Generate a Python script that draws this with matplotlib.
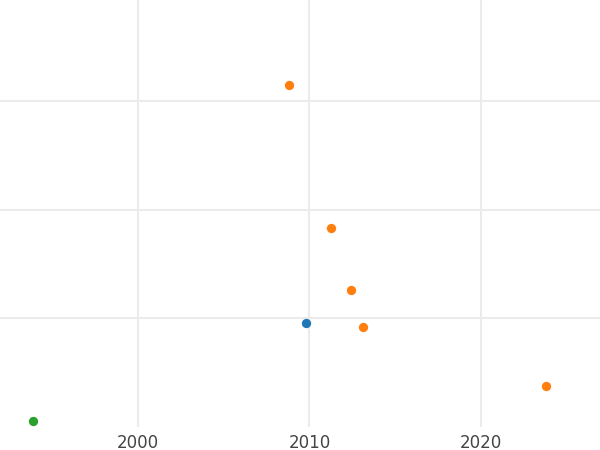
import matplotlib
matplotlib.use("Agg")
import matplotlib.pyplot as plt

# data
blue_x = [2009.8]
blue_y = [0.96]
orange_x = [2008.8, 2011.25, 2012.4, 2013.1, 2023.8]
orange_y = [3.15, 1.83, 1.26, 0.92, 0.38]
green_x = [1993.9]
green_y = [0.055]
xticks = [2000, 2010, 2020]
yticks = [1, 2, 3]

fig = plt.figure(figsize=(6, 4.5), dpi=100)
ax = fig.add_axes([0, 1 - 427 / 450, 1, 427 / 450])
ax.set_xlim(1991.95, 2026.95)
ax.set_ylim(0, 3.93)
for s in ax.spines.values():
    s.set_visible(False)
ax.set_xticks(xticks)
ax.set_yticks(yticks)
ax.set_yticklabels([])
ax.tick_params(length=0, labelsize=12, labelcolor="#444444", pad=5)
ax.grid(True, color="#ebebeb", linewidth=1.5)
ax.set_axisbelow(True)

ax.scatter(blue_x, blue_y, s=45, color="#1f77b4", zorder=3, linewidths=0)
ax.scatter(orange_x, orange_y, s=45, color="#ff7f0e", zorder=3, linewidths=0)
ax.scatter(green_x, green_y, s=45, color="#2ca02c", zorder=3, linewidths=0, clip_on=False)

fig.savefig("out.png", dpi=100)
